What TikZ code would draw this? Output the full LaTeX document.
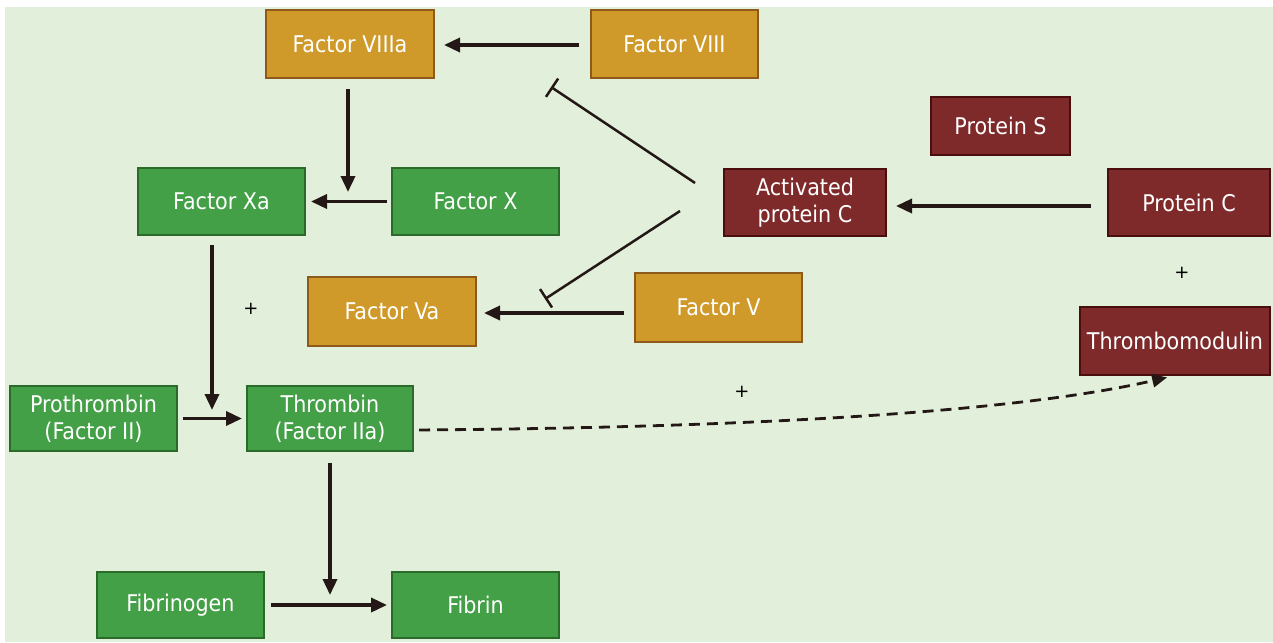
\documentclass[tikz,border=0pt]{standalone}
\usepackage{fontspec}
\setmainfont{DejaVu Sans Condensed}
\newfontfamily\plusfont{DejaVu Sans}
\usetikzlibrary{arrows.meta}
\definecolor{bgc}{HTML}{E2EFDA}
\definecolor{goldf}{HTML}{CF9A2A}
\definecolor{goldd}{HTML}{8E5A1C}
\definecolor{greenf}{HTML}{43A047}
\definecolor{greend}{HTML}{2A6A2A}
\definecolor{redf}{HTML}{7F2A2A}
\definecolor{redd}{HTML}{4A0E0E}
\definecolor{arrowc}{HTML}{231815}
\tikzset{
  box/.style={rectangle, inner sep=0pt, line width=2pt, text=white, align=center,
    font=\fontsize{23}{27}\selectfont},
  goldbox/.style={box, fill=goldf, draw=goldd},
  greenbox/.style={box, fill=greenf, draw=greend},
  redbox/.style={box, fill=redf, draw=redd},
  arr/.style={line width=3.5pt, draw=arrowc, -{Triangle[length=16pt,width=14pt]}},
  inhib/.style={line width=2.5pt, draw=arrowc, -{Bar[width=22pt,line width=2.5pt]}},
  dasharr/.style={line width=2.8pt, draw=arrowc, dash pattern=on 11pt off 7pt,
    -{Triangle[length=15pt,width=13pt]}},
  plus/.style={font=\plusfont\fontsize{18}{18}\selectfont, text=black, inner sep=0pt}
}
\begin{document}
\begin{tikzpicture}[x=1pt,y=-1pt]
\useasboundingbox (0,0) rectangle (1273,642);
\fill[white] (0,0) rectangle (1273,642);
\fill[bgc] (5,7) rectangle (1273,642);

\node[goldbox, minimum width=168pt, minimum height=68pt] (viiia) at (350,44) {Factor VIIIa};
\node[goldbox, minimum width=167pt, minimum height=68pt] (viii) at (674.5,44) {Factor VIII};
\node[redbox, minimum width=139pt, minimum height=58pt] (ps) at (1000.5,126) {Protein S};
\node[greenbox, minimum width=167pt, minimum height=67pt] (xa) at (221.5,201.5) {Factor Xa};
\node[greenbox, minimum width=167pt, minimum height=67pt] (x) at (475.5,201.5) {Factor X};
\node[redbox, minimum width=162pt, minimum height=67pt] (apc) at (805,202.5) {Activated\\protein C};
\node[redbox, minimum width=162pt, minimum height=67pt] (pc) at (1189,202.5) {Protein C};
\node[goldbox, minimum width=168pt, minimum height=69pt] (va) at (392,311.5) {Factor Va};
\node[goldbox, minimum width=167pt, minimum height=69pt] (v) at (718.5,307.5) {Factor V};
\node[redbox, minimum width=190pt, minimum height=68pt] (tm) at (1175,341) {Thrombomodulin};
\node[greenbox, minimum width=167pt, minimum height=65pt] (pt) at (93.5,418.5) {Prothrombin\\(Factor II)};
\node[greenbox, minimum width=166pt, minimum height=65pt] (th) at (330,418.5) {Thrombin\\(Factor IIa)};
\node[greenbox, minimum width=167pt, minimum height=66pt] (fg) at (180.5,605) {Fibrinogen};
\node[greenbox, minimum width=167pt, minimum height=66pt] (fb) at (475.5,605) {Fibrin};

\node[plus] (p1) at (251,309) {+};
\node[plus] (p2) at (1182,273) {+};
\node[plus] (p3) at (742,392) {+};

\coordinate (c1) at (348,192);
\coordinate (c2) at (212,410);
\coordinate (c3) at (330,595);
\coordinate (i1s) at (695,183);
\coordinate (i1e) at (551,87);
\coordinate (i2s) at (680,211);
\coordinate (i2e) at (545,299);

\draw[arr, shorten <=11pt, shorten >=9pt] ([yshift=-1pt]viii.west) -- ([yshift=-1pt]viiia.east);
\draw[arr, shorten <=10pt] ([xshift=-2pt]viiia.south) -- (c1);
\draw[arr, shorten <=4pt, shorten >=5pt] (x.west) -- (xa.east);
\draw[inhib] (i1s) -- (i1e);
\draw[inhib] (i2s) -- (i2e);
\draw[arr, shorten <=16pt, shorten >=9pt] ([yshift=-3.5pt]pc.west) -- ([yshift=-3.5pt]apc.east);
\draw[arr, shorten <=10pt, shorten >=7pt] ([yshift=-5.5pt]v.west) -- ([yshift=-1.5pt]va.east);
\draw[arr, shorten <=9pt] ([xshift=-9.5pt]xa.south) -- (c2);
\draw[arr, shorten <=5pt, shorten >=4pt] (pt.east) -- (th.west);
\draw[arr, shorten <=11pt] (th.south) -- (c3);
\draw[arr, shorten <=6pt, shorten >=4pt] (fg.east) -- (fb.west);
\draw[dasharr, shorten <=5pt, shorten >=6pt] ([yshift=-11.5pt]th.east) .. controls (700,428) and (1000,416) .. ([xshift=-2pt]tm.south);
\end{tikzpicture}
\end{document}
